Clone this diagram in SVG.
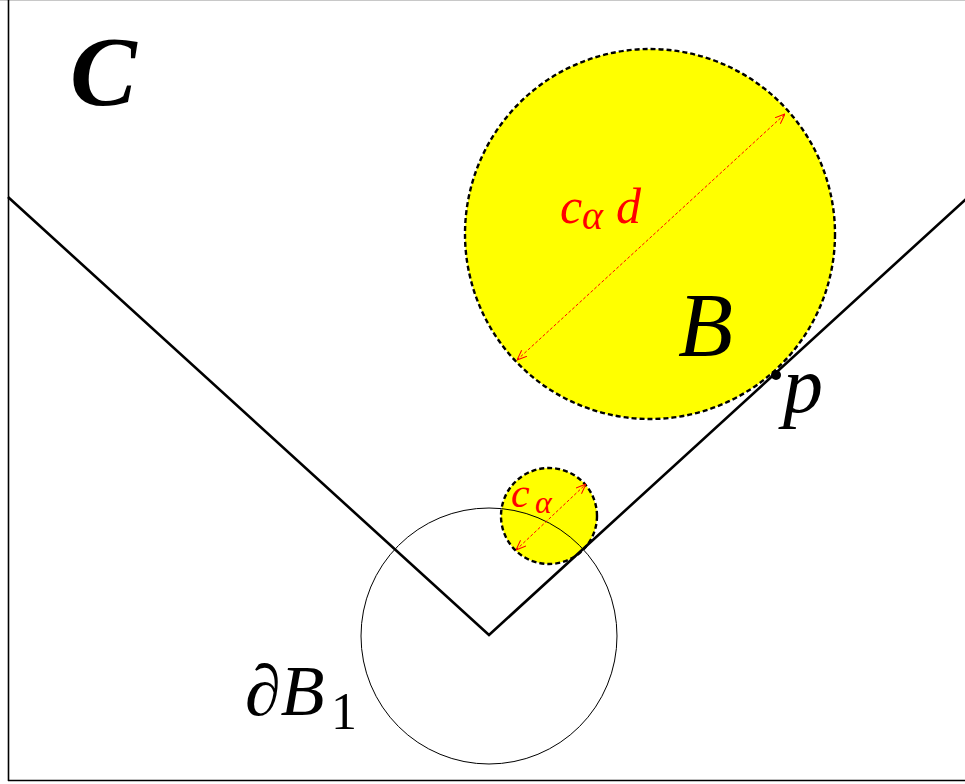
<svg xmlns="http://www.w3.org/2000/svg" width="965" height="784" viewBox="0 0 965 784">
<style>
.ball{fill:#ffff00;stroke:#000;stroke-width:2.4;stroke-dasharray:5 3}
.wedge{fill:none;stroke:#000;stroke-width:2.6;stroke-linejoin:miter}
.thin{fill:none;stroke:#000;stroke-width:1}
.dim{stroke:#ff0000;stroke-width:1;stroke-dasharray:3 2;fill:none}
.red{fill:#ff0000}
</style>
<defs>
<marker id="ah" viewBox="0 0 10 10" refX="10" refY="5" markerWidth="10" markerHeight="10" markerUnits="userSpaceOnUse" orient="auto-start-reverse">
<path d="M0,1 L10,5 L0,9" fill="none" stroke="#ff0000" stroke-width="1"/>
</marker>
</defs>
<rect x="0" y="0" width="965" height="784" fill="#fff"/>
<g id="frame">
<line x1="0" y1="0.5" x2="965" y2="0.5" stroke="#c8c8c8" stroke-width="1"/>
<line x1="8.5" y1="0" x2="8.5" y2="781" stroke="#000" stroke-width="1.6"/>
<line x1="8" y1="780.5" x2="965" y2="780.5" stroke="#000" stroke-width="1.6"/>
</g>
<g id="ballB">
<circle class="ball" cx="650" cy="234" r="185"/>
</g>
<g id="smallBall">
<circle class="ball" cx="549" cy="516" r="48"/>
</g>
<g id="cone">
<polyline class="wedge" points="8,197 489,635 966,199"/>
</g>
<g id="B1">
<circle class="thin" cx="489" cy="636" r="128"/>
</g>
<g id="connectors">
<line class="dim" x1="517" y1="360" x2="785" y2="114" marker-start="url(#ah)" marker-end="url(#ah)"/>
<line class="dim" x1="516" y1="550" x2="586" y2="484" marker-start="url(#ah)" marker-end="url(#ah)"/>
</g>
<g id="pointP">
<circle cx="776" cy="375" r="5" fill="#000"/>
<text x="783" y="412" font-family="'Liberation Serif', serif" font-style="italic" font-size="80">p</text>
</g>
<g id="labels" font-family="'Liberation Serif', serif" font-style="italic">
<text x="70" y="105" font-weight="bold" font-size="100">C</text>
<text x="678" y="356" font-size="90">B</text>
<text x="245" y="715" font-size="72">∂B</text>
<text x="331" y="729" font-size="52" font-style="normal">1</text>
<text class="red" x="560" y="223" font-size="50">c</text>
<text class="red" x="582" y="229" font-size="40">α</text>
<text class="red" x="616" y="223" font-size="50">d</text>
<text class="red" x="511" y="507" font-size="42">c</text>
<text class="red" x="535" y="513" font-size="32">α</text>
</g>
</svg>
